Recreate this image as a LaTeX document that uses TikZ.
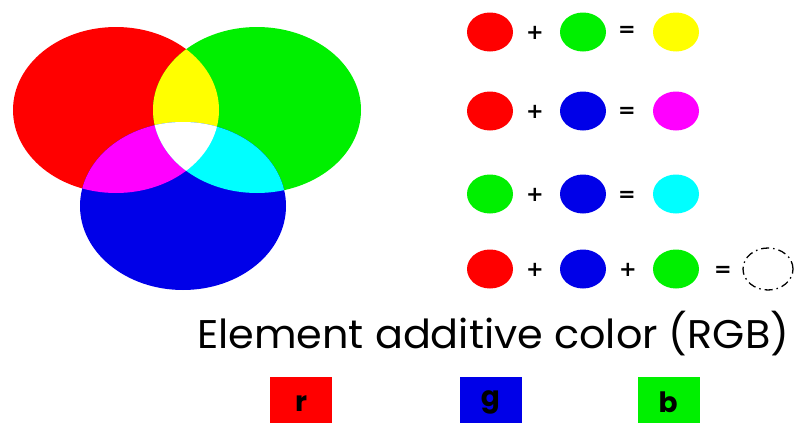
\documentclass[tikz,border=0pt]{standalone}
\usepackage{fontspec}
\usepackage{graphicx}
\setmainfont{Poppins}
\newfontfamily\symfont{DejaVu Sans}
\usetikzlibrary{shapes.geometric}
\definecolor{cR}{RGB}{255,0,0}
\definecolor{cG}{RGB}{0,240,0}
\definecolor{cB}{RGB}{0,0,232}
\definecolor{cY}{RGB}{255,255,0}
\definecolor{cM}{RGB}{255,0,255}
\definecolor{cC}{RGB}{0,255,255}
\newsavebox\titlebox
\tikzset{
  dot/.style={ellipse, minimum width=46pt, minimum height=39pt, inner sep=0pt, fill=#1},
  op/.style={font=\symfont\bfseries\fontsize{21}{21}\selectfont, inner sep=0pt},
  sq/.style={rectangle, minimum width=62pt, minimum height=46pt, inner sep=0pt, fill=#1, anchor=north},
  lt/.style={font=\bfseries\fontsize{28}{28}\selectfont, text=black, inner sep=0pt, anchor=base}
}
\begin{document}
\sbox\titlebox{\fontsize{40}{40}\selectfont Element additive color (RGB)}%
\pgfmathsetmacro\titleratio{592/\wd\titlebox}%
\begin{tikzpicture}[x=1pt,y=-1pt]
\useasboundingbox (0,0) rectangle (795,423);
% Venn diagram
\def\Red{(116,110) ellipse [x radius=103, y radius=83]}
\def\Grn{(257,110) ellipse [x radius=104, y radius=83]}
\def\Blu{(183,206) ellipse [x radius=103, y radius=84]}
\fill[cR] \Red;
\fill[cG] \Grn;
\fill[cB] \Blu;
\begin{scope}\clip \Red; \fill[cY] \Grn; \end{scope}
\begin{scope}\clip \Red; \fill[cM] \Blu; \end{scope}
\begin{scope}\clip \Grn; \fill[cC] \Blu; \end{scope}
\begin{scope}\clip \Red; \clip \Grn; \fill[white] \Blu; \end{scope}
% equations
\node[dot=cR] (r1a) at (490,32) {};
\node[op] (r1p) at (535,33) {+};
\node[dot=cG] (r1b) at (583,32) {};
\node[op] (r1e) at (627,31) {=};
\node[dot=cY] (r1c) at (676,32) {};

\node[dot=cR] (r2a) at (490,111) {};
\node[op] (r2p) at (535,112) {+};
\node[dot=cB] (r2b) at (583,111) {};
\node[op] (r2e) at (627,112) {=};
\node[dot=cM] (r2c) at (676,111) {};

\node[dot=cG] (r3a) at (490,194) {};
\node[op] (r3p) at (535,195) {+};
\node[dot=cB] (r3b) at (583,194) {};
\node[op] (r3e) at (627,196) {=};
\node[dot=cC] (r3c) at (676,194) {};

\node[dot=cR] (r4a) at (490,269) {};
\node[op] (r4p) at (535,270) {+};
\node[dot=cB] (r4b) at (583,269) {};
\node[op] (r4q) at (628,270) {+};
\node[dot=cG] (r4c) at (676,269) {};
\node[op] (r4e) at (723,271) {=};
\node[ellipse, minimum width=50pt, minimum height=42pt, inner sep=0pt, draw=black, line width=1.3pt,
  dash pattern=on 8pt off 4pt on 1.5pt off 4pt] (r4d) at (768,269) {};
% title
\node[inner sep=0pt, anchor=base west] (title) at (197,348)
  {\scalebox{\titleratio}[1]{\usebox\titlebox}};
% squares
\node[sq=cR] (sr) at (301,377) {};
\node[sq=cB] (sg) at (490.5,377) {};
\node[sq=cG] (sb) at (669,377) {};
\node[lt] (lr) at (301,411) {r};
\node[lt] (lg) at (490.5,406) {g};
\node[lt] (lb) at (668,412) {b};
\end{tikzpicture}
\end{document}
